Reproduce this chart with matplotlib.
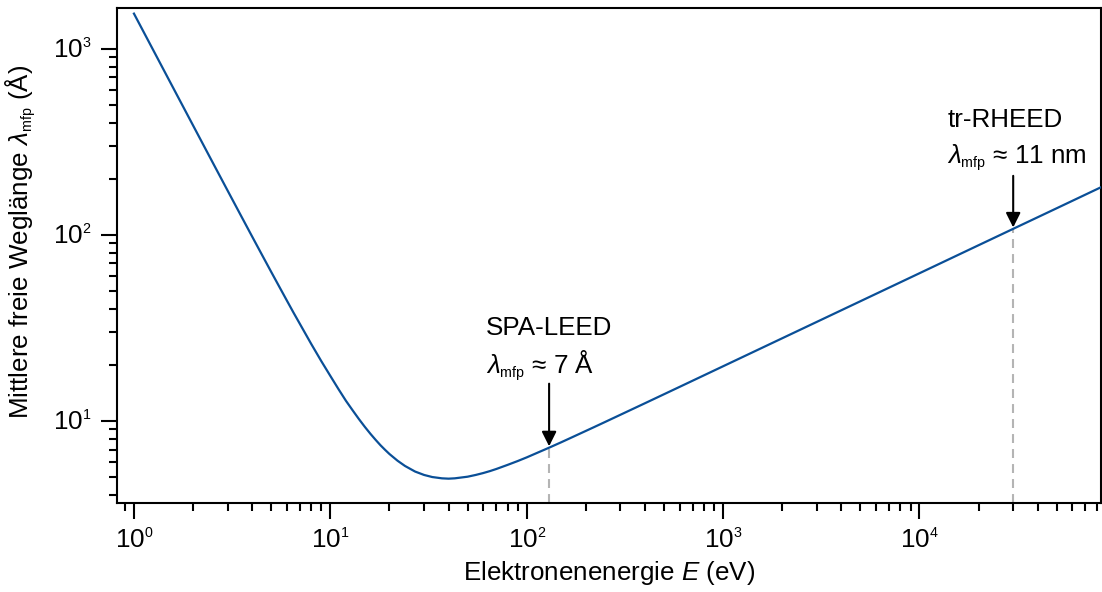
import numpy as np
import matplotlib
matplotlib.use('Agg')
import matplotlib.pyplot as plt
import matplotlib._mathtext as mathtext_mod

plt.rcParams['font.family'] = 'Liberation Sans'
plt.rcParams['mathtext.fontset'] = 'custom'
plt.rcParams['mathtext.rm'] = 'Liberation Sans'
plt.rcParams['mathtext.it'] = 'Liberation Sans:italic'
plt.rcParams['mathtext.bf'] = 'Liberation Sans:bold'
# smaller super/subscripts for exponents and the mfp index
mathtext_mod.SHRINK_FACTOR = 0.55

# Universal curve of the inelastic mean free path (energy in eV, lambda in Angstrom)
energy = [1, 1.5, 2, 2.5, 3, 3.5, 4, 4.5, 5, 5.5, 6, 6.5, 7, 7.5, 8, 9, 10, 11,
          12, 13, 14, 15, 16, 17, 18, 19, 20, 22, 24, 27, 30, 33, 37, 40, 43,
          50, 55, 60, 65, 70, 80, 90, 100, 115, 130, 150, 170, 220, 250, 300,
          400, 600, 1000, 2000, 5000, 10000, 20000, 30000, 50000, 87000]
lam = [1540, 685.2, 386, 247.4, 172.2, 126.9, 97.5, 77.4, 63.0, 52.4, 44.3,
       38.0, 33.1, 29.1, 25.8, 20.87, 17.4, 14.78, 12.8, 11.35, 10.18, 9.25,
       8.50, 7.89, 7.38, 6.97, 6.62, 6.09, 5.71, 5.33, 5.11, 4.98, 4.90, 4.88,
       4.90, 5.00, 5.11, 5.23, 5.36, 5.50, 5.79, 6.07, 6.35, 6.77, 7.16, 7.66,
       8.14, 9.23, 9.83, 10.76, 12.41, 15.19, 19.61, 27.73, 43.84, 62.0, 87.7,
       107.4, 138.6, 182.9]

# Experiments marked on the curve
exp_names = ['SPA-LEED', 'tr-RHEED']
exp_energy = [130, 30000]
exp_lam = [7.16, 107.4]
exp_text = [r'$\lambda_\mathrm{mfp}$ ≈ 7 Å', r'$\lambda_\mathrm{mfp}$ ≈ 11 nm']
# label placement relative to the marked point (pixels): x, name, value, arrow tail
exp_off = [(-63, 113, 74, 64), (-66, 102, 65, 53)]

fs = 18.7

fig = plt.figure(figsize=(11.02, 5.92), dpi=100)
ax = fig.add_axes([0.1062, 0.1503, 0.8929, 0.8361])

ax.plot(energy, lam, color='#0a4f97', lw=1.6, zorder=3)

ax.set_xscale('log')
ax.set_yscale('log')
ax.set_xlim(0.82, 8.4e4)
ax.set_ylim(3.61, 1650)

for name, e, l, txt, off in zip(exp_names, exp_energy, exp_lam, exp_text, exp_off):
    ax.plot([e, e], [3.61, l], color='#b4b4b4', lw=1.5,
            linestyle=(0, (4.3, 2.9)), zorder=2)
    ax.annotate('', xy=(e, l), xytext=(0, off[3]), textcoords='offset pixels',
                arrowprops=dict(arrowstyle='-|>', color='black', lw=1.5,
                                mutation_scale=22, shrinkA=0, shrinkB=1))
    ax.annotate(name, xy=(e, l), xytext=(off[0], off[1]),
                textcoords='offset pixels', ha='left', va='baseline', fontsize=fs)
    ax.annotate(txt, xy=(e, l), xytext=(off[0], off[2]),
                textcoords='offset pixels', ha='left', va='baseline', fontsize=fs)

ax.set_xlabel(r'Elektronenenergie $E$ (eV)', fontsize=fs)
ax.set_ylabel(r'Mittlere freie Weglänge $\lambda_\mathrm{mfp}$ (Å)', fontsize=fs)
ax.xaxis.set_label_coords(0.5, -0.113)
ax.yaxis.set_label_coords(-0.080, 0.528)

ax.tick_params(which='both', direction='out', top=False, right=False, width=1.5)
ax.tick_params(which='major', length=11.5, labelsize=fs, pad=7)
ax.tick_params(which='minor', length=5.8)
for s in ax.spines.values():
    s.set_linewidth(1.5)

fig.savefig('out.png', dpi=100)
